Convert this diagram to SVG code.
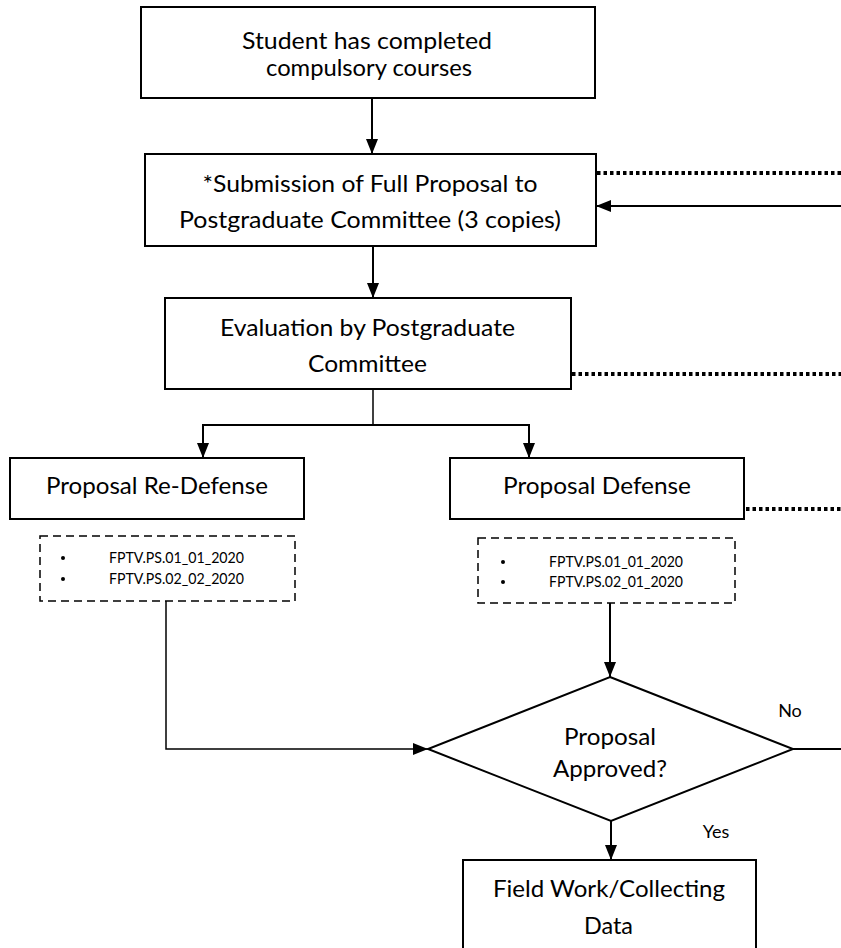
<svg xmlns="http://www.w3.org/2000/svg" width="841" height="948" viewBox="0 0 841 948">
<style>
.box{fill:#fff;stroke:#000;stroke-width:2}
.dbox{fill:none;stroke:#000;stroke-width:1.5;stroke-dasharray:8 5}
.ln{fill:none;stroke:#000;stroke-width:2}
.dot{fill:none;stroke:#000;stroke-width:4;stroke-dasharray:3.5 3}
.t{font-family:Lato,"Open Sans",sans-serif;font-size:24px;fill:#000;text-anchor:middle}
.s{font-family:Lato,"Open Sans",sans-serif;font-size:15px;fill:#000}
.l{font-family:Lato,"Open Sans",sans-serif;font-size:18px;fill:#000;text-anchor:middle}
</style>
<defs>
<marker id="ah" viewBox="0 0 15 12" refX="15" refY="6" markerWidth="15" markerHeight="12" markerUnits="userSpaceOnUse" orient="auto">
<path d="M0,0 L15,6 L0,12 z" fill="#000"/>
</marker>
</defs>
<rect width="841" height="948" fill="#fff"/>
<g id="connectors">
<line class="ln" x1="372" y1="98" x2="372" y2="154" marker-end="url(#ah)"/>
<line class="ln" x1="373" y1="246" x2="373" y2="298" marker-end="url(#ah)"/>
<line class="ln" x1="373" y1="389" x2="373" y2="425" style="stroke-width:1.5"/>
<line class="ln" x1="202" y1="425" x2="530" y2="425"/>
<line class="ln" x1="203" y1="425" x2="203" y2="458" marker-end="url(#ah)"/>
<line class="ln" x1="529" y1="425" x2="529" y2="458" marker-end="url(#ah)"/>
<line class="dot" x1="597" y1="173" x2="841" y2="173"/>
<line class="dot" x1="572" y1="374" x2="841" y2="374"/>
<line class="dot" x1="746" y1="509" x2="841" y2="509"/>
<line class="ln" x1="841" y1="206" x2="596" y2="206" marker-end="url(#ah)"/>
<polyline class="ln" points="166,601 166,749 428,749" style="stroke-width:1.5" marker-end="url(#ah)"/>
<line class="ln" x1="610" y1="603" x2="610" y2="677" marker-end="url(#ah)"/>
<line class="ln" x1="793" y1="749" x2="841" y2="749"/>
<line class="ln" x1="611" y1="821" x2="611" y2="860" marker-end="url(#ah)"/>
<text class="l" x="790" y="717">No</text>
<text class="l" x="716" y="838">Yes</text>
</g>
<g id="n1">
<rect class="box" x="141" y="7" width="454" height="91"/>
<text class="t" x="367" y="49" textLength="250" lengthAdjust="spacingAndGlyphs">Student has completed</text>
<text class="t" x="369" y="76" textLength="206" lengthAdjust="spacingAndGlyphs">compulsory courses</text>
</g>
<g id="n2">
<rect class="box" x="145" y="154" width="451" height="92"/>
<text class="t" x="370" y="192" textLength="335" lengthAdjust="spacingAndGlyphs">*Submission of Full Proposal to</text>
<text class="t" x="370" y="228" textLength="382" lengthAdjust="spacingAndGlyphs">Postgraduate Committee (3 copies)</text>
</g>
<g id="n3">
<rect class="box" x="165" y="298" width="406" height="91"/>
<text class="t" x="367.5" y="336" textLength="295" lengthAdjust="spacingAndGlyphs">Evaluation by Postgraduate</text>
<text class="t" x="367.5" y="372" textLength="119" lengthAdjust="spacingAndGlyphs">Committee</text>
</g>
<g id="n4">
<rect class="box" x="10" y="458" width="294" height="61"/>
<text class="t" x="157" y="494" textLength="222" lengthAdjust="spacingAndGlyphs">Proposal Re-Defense</text>
</g>
<g id="n4docs">
<rect class="dbox" x="40" y="536" width="255" height="65"/>
<circle cx="63" cy="558" r="2"/>
<circle cx="63" cy="579" r="2"/>
<text class="s" x="109" y="563" textLength="135" lengthAdjust="spacingAndGlyphs">FPTV.PS.01_01_2020</text>
<text class="s" x="109" y="584" textLength="135" lengthAdjust="spacingAndGlyphs">FPTV.PS.02_02_2020</text>
</g>
<g id="n5">
<rect class="box" x="450" y="458" width="294" height="61"/>
<text class="t" x="597" y="494" textLength="188" lengthAdjust="spacingAndGlyphs">Proposal Defense</text>
</g>
<g id="n5docs">
<rect class="dbox" x="478" y="538" width="257" height="65"/>
<circle cx="503" cy="562" r="2"/>
<circle cx="503" cy="582" r="2"/>
<text class="s" x="549" y="567" textLength="134" lengthAdjust="spacingAndGlyphs">FPTV.PS.01_01_2020</text>
<text class="s" x="549" y="587" textLength="134" lengthAdjust="spacingAndGlyphs">FPTV.PS.02_01_2020</text>
</g>
<g id="n6">
<polygon class="box" points="610,677 793,749 611,821 428,749"/>
<text class="t" x="610" y="745" textLength="92" lengthAdjust="spacingAndGlyphs">Proposal</text>
<text class="t" x="610" y="777" textLength="114" lengthAdjust="spacingAndGlyphs">Approved?</text>
</g>
<g id="n7">
<rect class="box" x="463" y="860" width="293" height="100"/>
<text class="t" x="609" y="897" textLength="232" lengthAdjust="spacingAndGlyphs">Field Work/Collecting</text>
<text class="t" x="608.5" y="934" textLength="49" lengthAdjust="spacingAndGlyphs">Data</text>
</g>
</svg>
